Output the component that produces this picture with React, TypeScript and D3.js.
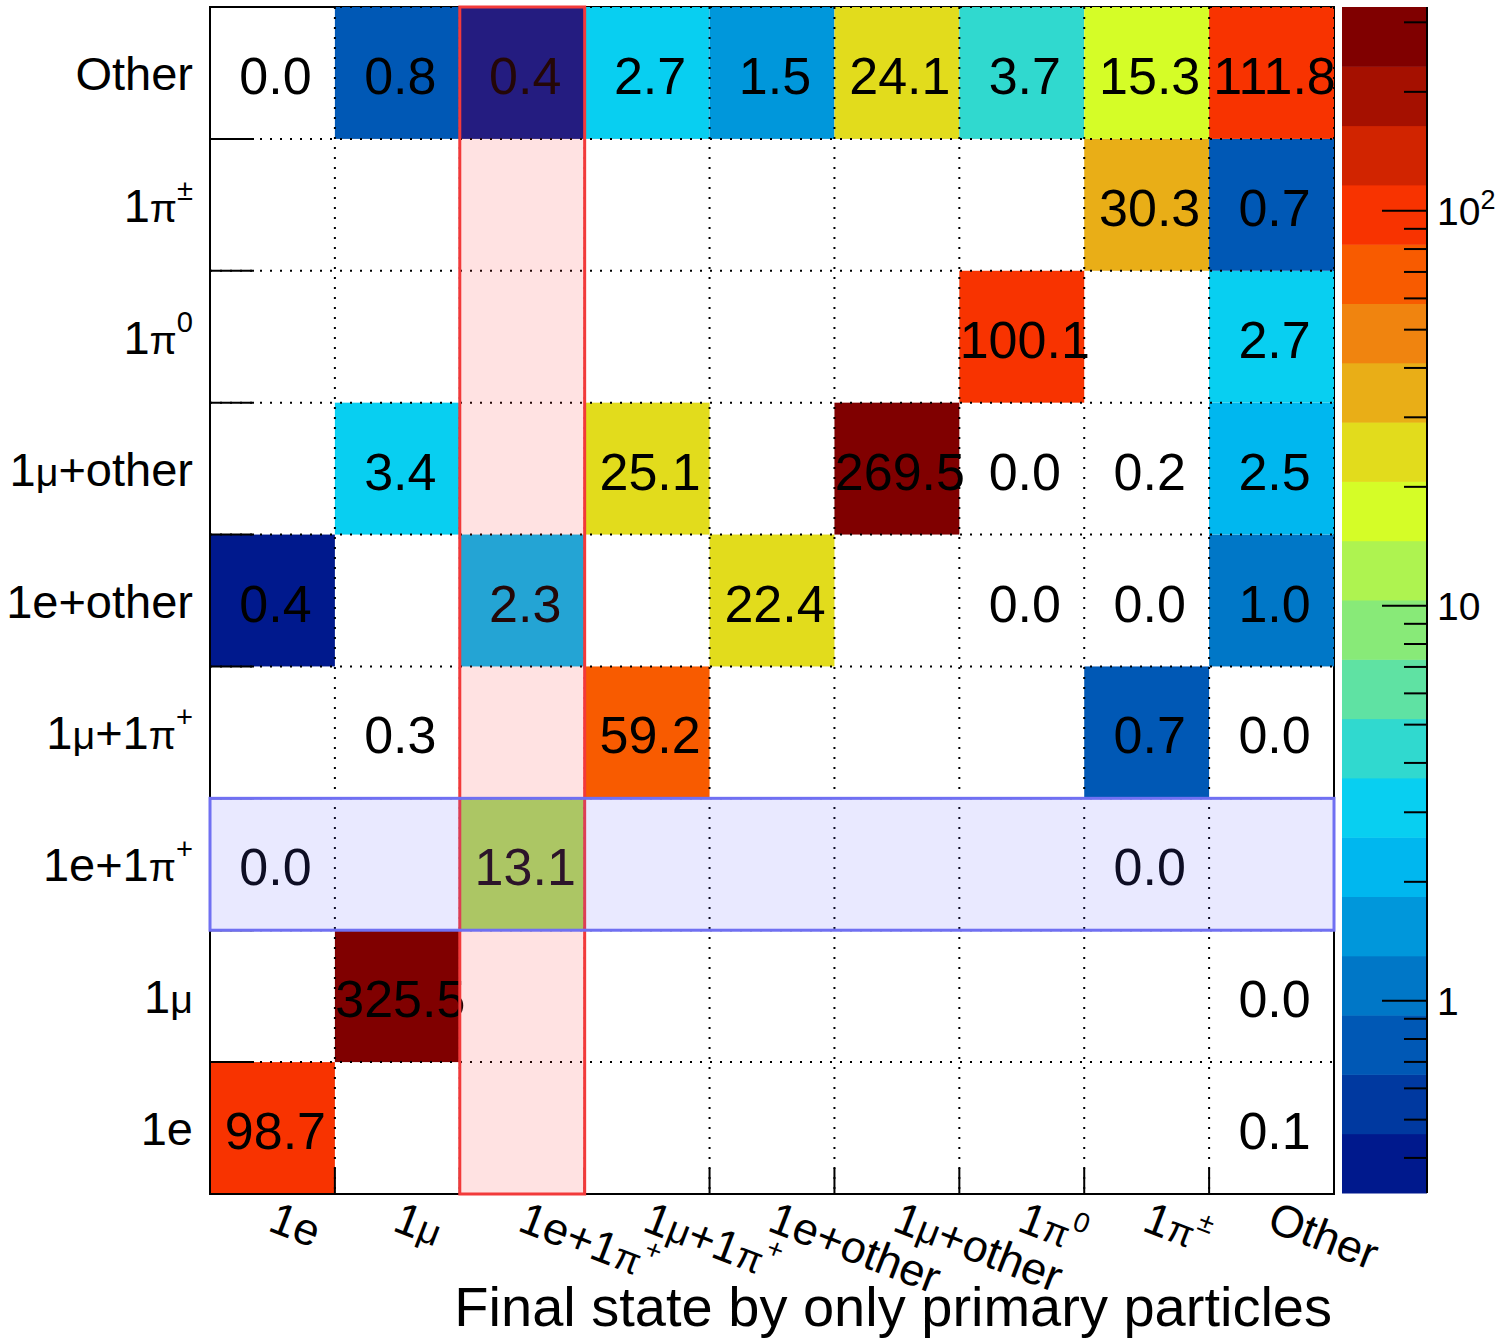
import React, { useEffect, useRef } from 'react';
import * as d3 from 'd3';

// categories, bottom -> top on y, left -> right on x
const categories = ['1e', '1μ', '1e+1π+', '1μ+1π+', '1e+other', '1μ+other', '1π0', '1π±', 'Other'];
// label split into [main text, superscript]
const labelParts: [string, string][] = [
  ['1e', ''],
  ['1μ', ''],
  ['1e+1π', '+'],
  ['1μ+1π', '+'],
  ['1e+other', ''],
  ['1μ+other', ''],
  ['1π', '0'],
  ['1π', '±'],
  ['Other', ''],
];

// one row per y category (bottom -> top), one entry per x category
const row1e = [98.7, null, null, null, null, null, null, null, 0.1];
const row1mu = [null, 325.5, null, null, null, null, null, null, 0.0];
const row1e1pi = [0.0, null, 13.1, null, null, null, null, 0.0, null];
const row1mu1pi = [null, 0.3, null, 59.2, null, null, null, 0.7, 0.0];
const row1eOther = [0.4, null, 2.3, null, 22.4, null, 0.0, 0.0, 1.0];
const row1muOther = [null, 3.4, null, 25.1, null, 269.5, 0.0, 0.2, 2.5];
const row1pi0 = [null, null, null, null, null, null, 100.1, null, 2.7];
const row1piPm = [null, null, null, null, null, null, null, 30.3, 0.7];
const rowOther = [0.0, 0.8, 0.4, 2.7, 1.5, 24.1, 3.7, 15.3, 111.8];
const rows = [row1e, row1mu, row1e1pi, row1mu1pi, row1eOther, row1muOther, row1pi0, row1piPm, rowOther];

// z axis range and palette (bottom -> top)
const zRange = [0.326, 328];
const palette = [
  '#00198d', '#0039a0', '#0058b5', '#0077c7', '#0097db',
  '#00b7ef', '#08cff1', '#30d9cf', '#5fe2a3', '#88ea78',
  '#aef350', '#d5fd27', '#e2dc1c', '#e9ae17', '#f0840f',
  '#f85b00', '#f83300', '#d12400', '#a51000', '#800000',
];

const highlightCol = '1e+1π+';
const highlightRow = '1e+1π+';

const FONT = '"Liberation Sans", Arial, Helvetica, sans-serif';

// greek letters drawn a bit smaller, like ROOT's symbol font
const addLabel = (sel, parts: [string, string], size) => {
  parts[0].split(/([πμ])/).forEach((s) => {
    if (!s) return;
    const greek = s === 'π' || s === 'μ';
    sel.append('tspan').attr('font-size', greek ? size * 0.84 : size).text(s);
  });
  if (parts[1]) {
    sel
      .append('tspan')
      .attr('font-size', size * 0.62)
      .attr('baseline-shift', '75%')
      .text(parts[1]);
  }
};

const App = () => {
  const ref = useRef<SVGSVGElement>(null);

  useEffect(() => {
    if (!ref.current) return;
    const width = 1503,
      height = 1338,
      left = 210,
      right = 1334,
      top = 7,
      bottom = 1194;

    const svg = d3.select(ref.current);
    svg.selectAll('*').remove();

    const x = d3.scaleBand().domain(categories).range([left, right]);
    const y = d3.scaleBand().domain(categories).range([bottom, top]);
    const z = d3.scaleLog().domain(zRange).range([0, 1]);
    const colorOf = (v) => {
      const t = z(v);
      const i = Math.max(0, Math.min(palette.length - 1, Math.floor(t * palette.length)));
      return palette[i];
    };

    const cells = [];
    rows.forEach((r, yi) =>
      r.forEach((v, xi) => {
        if (v !== null) cells.push({ xc: categories[xi], yc: categories[yi], v });
      })
    );

    // frame under the boxes
    svg
      .append('rect')
      .attr('x', left)
      .attr('y', top)
      .attr('width', right - left)
      .attr('height', bottom - top)
      .attr('fill', 'white')
      .attr('stroke', 'black')
      .attr('stroke-width', 2);

    // boxes
    svg
      .append('g')
      .selectAll('rect')
      .data(cells.filter((d) => d.v >= zRange[0]))
      .join('rect')
      .attr('x', (d) => x(d.xc))
      .attr('y', (d) => y(d.yc))
      .attr('width', x.bandwidth())
      .attr('height', y.bandwidth())
      .attr('fill', (d) => colorOf(d.v));

    // dotted grid
    const grid = svg.append('g').attr('stroke', 'black').attr('stroke-width', 2).attr('stroke-dasharray', '2,8');
    categories.forEach((c) => {
      grid.append('line').attr('x1', x(c)).attr('x2', x(c)).attr('y1', top).attr('y2', bottom);
      grid.append('line').attr('x1', left).attr('x2', right).attr('y1', y(c)).attr('y2', y(c));
    });
    grid.append('line').attr('x1', right).attr('x2', right).attr('y1', top).attr('y2', bottom);
    grid.append('line').attr('x1', left).attr('x2', right).attr('y1', top).attr('y2', top);

    // cell numbers
    svg
      .append('g')
      .attr('font-family', FONT)
      .attr('font-size', 52)
      .attr('text-anchor', 'middle')
      .selectAll('text')
      .data(cells)
      .join('text')
      .attr('x', (d) => x(d.xc) + x.bandwidth() / 2 + 3)
      .attr('y', (d) => y(d.yc) + y.bandwidth() / 2 + 21)
      .text((d) => d.v.toFixed(1));

    // axes lines and ticks
    const ax = svg.append('g').attr('stroke', 'black').attr('stroke-width', 2);
    ax.append('line').attr('x1', left).attr('x2', left).attr('y1', top).attr('y2', bottom + 1);
    ax.append('line').attr('x1', left - 1).attr('x2', right + 1).attr('y1', bottom).attr('y2', bottom);
    categories.slice(1).forEach((c) => {
      ax.append('line').attr('x1', left).attr('x2', left + 44).attr('y1', y(c) + y.bandwidth()).attr('y2', y(c) + y.bandwidth());
      ax.append('line').attr('x1', x(c)).attr('x2', x(c)).attr('y1', bottom).attr('y2', bottom - 26);
    });

    // y labels
    categories.forEach((c, i) => {
      const t = svg
        .append('text')
        .attr('font-family', FONT)
        .attr('font-size', 47)
        .attr('text-anchor', 'end')
        .attr('x', 193)
        .attr('y', y(c) + y.bandwidth() / 2 + 17);
      addLabel(t, labelParts[i], 47);
    });

    // x labels, rotated
    categories.forEach((c, i) => {
      const t = svg
        .append('text')
        .attr('font-family', FONT)
        .attr('font-size', 45)
        .attr('transform', `translate(${x(c) + x.bandwidth() / 2 - 6},1230) rotate(21)`);
      addLabel(t, labelParts[i], 45);
    });

    // x title
    svg
      .append('text')
      .attr('font-family', FONT)
      .attr('font-size', 56)
      .attr('text-anchor', 'end')
      .attr('x', 1332)
      .attr('y', 1326)
      .text('Final state by only primary particles');

    // highlights
    svg
      .append('rect')
      .attr('x', x(highlightCol))
      .attr('y', top)
      .attr('width', x.bandwidth())
      .attr('height', bottom - top)
      .attr('fill', 'rgba(255,48,48,0.14)')
      .attr('stroke', '#f23a3a')
      .attr('stroke-width', 3);
    svg
      .append('rect')
      .attr('x', left)
      .attr('y', y(highlightRow))
      .attr('width', right - left)
      .attr('height', y.bandwidth())
      .attr('fill', 'rgba(96,96,255,0.14)')
      .attr('stroke', '#7070f2')
      .attr('stroke-width', 3);

    // colour bar
    const cbL = 1342,
      cbR = 1427;
    const zy = d3.scaleLog().domain(zRange).range([1193, 7]);
    const lz0 = Math.log10(zRange[0]),
      lz1 = Math.log10(zRange[1]);
    const cb = svg.append('g');
    palette.forEach((col, i) => {
      const a = Math.pow(10, lz0 + ((lz1 - lz0) * i) / palette.length);
      const b = Math.pow(10, lz0 + ((lz1 - lz0) * (i + 1)) / palette.length);
      cb.append('rect')
        .attr('x', cbL)
        .attr('y', zy(b))
        .attr('width', cbR - cbL)
        .attr('height', zy(a) - zy(b) + 0.5)
        .attr('fill', col);
    });
    cb.append('line').attr('x1', cbR).attr('x2', cbR).attr('y1', 7).attr('y2', 1193).attr('stroke', 'black').attr('stroke-width', 2);
    zy.ticks().forEach((t) => {
      const major = Math.abs(Math.log10(t) - Math.round(Math.log10(t))) < 1e-6;
      cb.append('line')
        .attr('x1', cbR - (major ? 45 : 23))
        .attr('x2', cbR)
        .attr('y1', zy(t))
        .attr('y2', zy(t))
        .attr('stroke', 'black')
        .attr('stroke-width', 2);
      if (major) {
        const e = Math.round(Math.log10(t));
        const tx = cb
          .append('text')
          .attr('font-family', FONT)
          .attr('font-size', 39)
          .attr('x', 1437)
          .attr('y', zy(t) + 14);
        if (e === 0) tx.text('1');
        else if (e === 1) tx.text('10');
        else {
          tx.append('tspan').text('10');
          tx.append('tspan').attr('font-size', 27).attr('baseline-shift', '60%').text(String(e));
        }
      }
    });

    svg.attr('width', width).attr('height', height);
  }, []);

  return (
    <svg
      ref={ref}
      width={1503}
      height={1338}
      style={{ position: 'absolute', left: 0, top: 0, background: 'white', display: 'block' }}
    />
  );
};

export default App;
